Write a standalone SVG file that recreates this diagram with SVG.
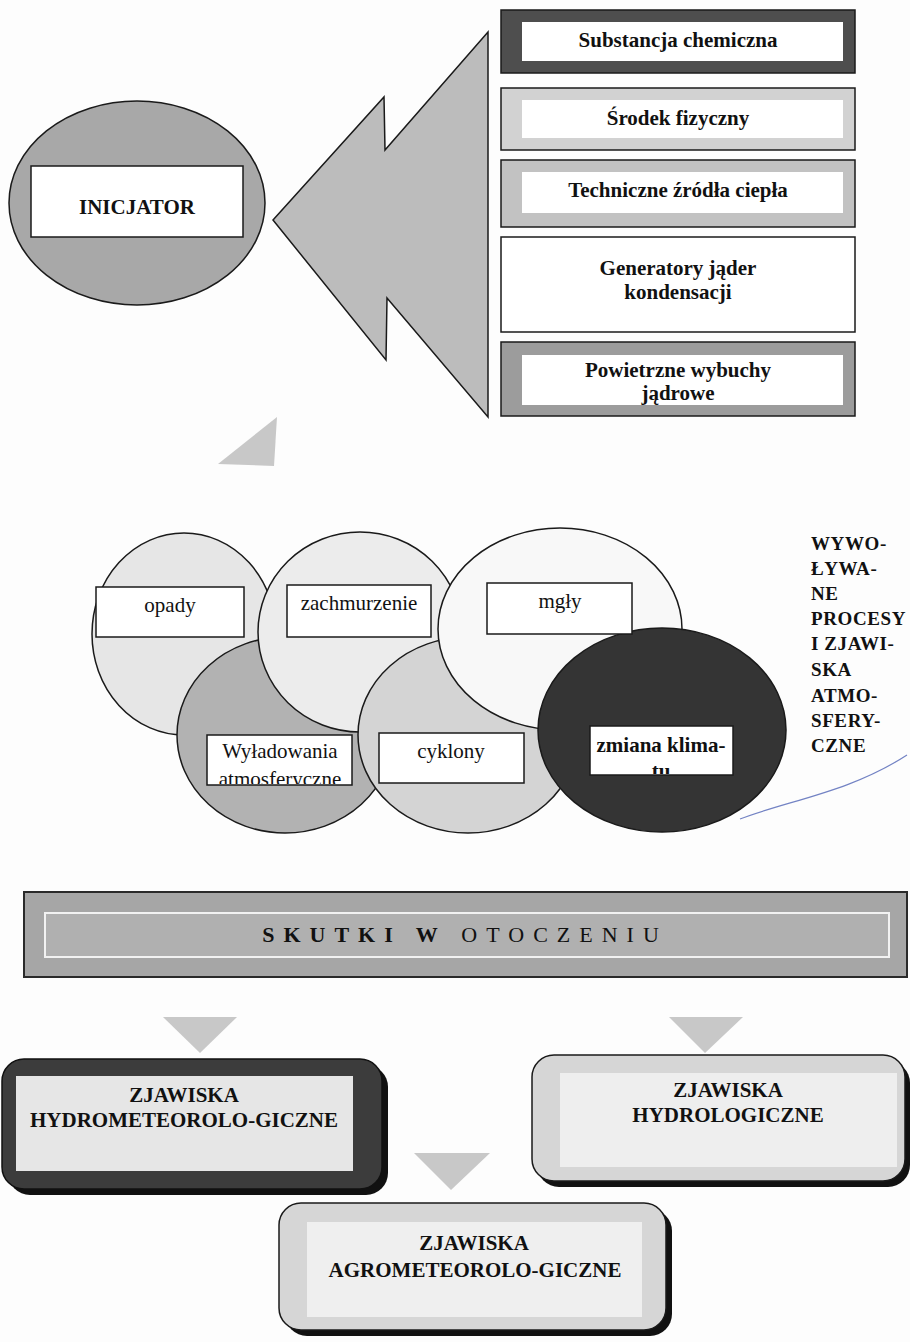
<svg xmlns="http://www.w3.org/2000/svg" width="910" height="1342" viewBox="0 0 910 1342">
<style>
.t{font-family:"Liberation Serif","Times New Roman",serif;fill:#111;}
.b{font-weight:bold;font-size:21px;}
.r{font-weight:normal;font-size:21px;}
.c{text-anchor:middle;}
.ln{stroke:#1a1a1a;stroke-width:1.5;}
.wb{fill:#fff;stroke:#1a1a1a;stroke-width:1.5;}
.tri{fill:#c8c8c8;stroke:none;}
</style>
<defs>
<clipPath id="cw"><rect x="208" y="736" width="143" height="48"/></clipPath>
<clipPath id="cz"><rect x="591" y="727" width="141" height="47"/></clipPath>
</defs>
<rect x="0" y="0" width="910" height="1342" fill="#fdfdfd"/>

<g id="connectors">
<polygon class="ln" fill="#bcbcbc" points="273,220 384,97 385,150 488,32 488,417 387,298 386,360"/>
<polygon class="tri" fill="#d0d0d0" points="277,417 218,464 274,466"/>
<polygon class="tri" points="163,1017 237,1017 200,1053"/>
<polygon class="tri" points="669,1017 743,1017 705,1053"/>
<polygon class="tri" points="414,1153 490,1153 451,1190"/>
</g>

<g id="inicjator">
<ellipse class="ln" cx="137" cy="203" rx="128" ry="102" fill="#a8a8a8"/>
<rect class="wb" x="31" y="166" width="212" height="71"/>
<text class="t b c" x="137" y="214">INICJATOR</text>
</g>

<g id="substancja">
<rect class="ln" x="501" y="10" width="354" height="63" fill="#4e4e4e"/>
<rect x="522" y="22" width="321" height="39" fill="#fff"/>
<text class="t b c" x="678" y="47">Substancja chemiczna</text>
</g>
<g id="srodek">
<rect class="ln" x="501" y="88" width="354" height="62" fill="#d2d2d2"/>
<rect x="522" y="100" width="321" height="38" fill="#fff"/>
<text class="t b c" x="678" y="125">Środek fizyczny</text>
</g>
<g id="techniczne">
<rect class="ln" x="501" y="160" width="354" height="67" fill="#c2c2c2"/>
<rect x="522" y="172" width="321" height="41" fill="#fff"/>
<text class="t b c" x="678" y="197">Techniczne źródła ciepła</text>
</g>
<g id="generatory">
<rect class="wb" x="501" y="237" width="354" height="95"/>
<text class="t b c" x="678" y="275">Generatory jąder</text>
<text class="t b c" x="678" y="299">kondensacji</text>
</g>
<g id="powietrzne">
<rect class="ln" x="501" y="342" width="354" height="74" fill="#9c9c9c"/>
<rect x="522" y="355" width="321" height="50" fill="#fff"/>
<text class="t b c" x="678" y="377">Powietrzne wybuchy</text>
<text class="t b c" x="678" y="400">jądrowe</text>
</g>

<g id="opady">
<ellipse class="ln" cx="184" cy="634" rx="92" ry="101" fill="#e6e6e6"/>
</g>
<g id="wyladowania">
<ellipse class="ln" cx="285" cy="735" rx="108" ry="98" fill="#b2b2b2"/>
</g>
<g id="zachmurzenie">
<ellipse class="ln" cx="360" cy="632" rx="102" ry="100" fill="#ececec"/>
</g>
<g id="cyklony">
<ellipse class="ln" cx="468" cy="735" rx="110" ry="98" fill="#d4d4d4"/>
</g>
<g id="mgly">
<ellipse class="ln" cx="560" cy="629" rx="122" ry="101" fill="#f8f8f8"/>
</g>
<g id="zmiana">
<ellipse class="ln" cx="662" cy="730" rx="124" ry="102" fill="#343434"/>
</g>

<g id="opady-label">
<rect class="wb" x="96" y="587" width="148" height="50"/>
<text class="t r c" x="170" y="612">opady</text>
</g>
<g id="zachmurzenie-label">
<rect class="wb" x="287" y="585" width="144" height="52"/>
<text class="t r c" x="359" y="610">zachmurzenie</text>
</g>
<g id="mgly-label">
<rect class="wb" x="487" y="583" width="145" height="51"/>
<text class="t r c" x="560" y="608">mgły</text>
</g>
<g id="wyladowania-label">
<rect class="wb" x="207" y="735" width="145" height="50"/>
<g clip-path="url(#cw)">
<text class="t r c" x="280" y="758">Wyładowania</text>
<text class="t r c" x="280" y="786">atmosferyczne</text>
</g>
</g>
<g id="cyklony-label">
<rect class="wb" x="379" y="733" width="145" height="50"/>
<text class="t r c" x="451" y="758">cyklony</text>
</g>
<g id="zmiana-label">
<rect class="wb" x="590" y="726" width="143" height="49"/>
<g clip-path="url(#cz)">
<text class="t b c" x="661" y="752">zmiana klima-</text>
<text class="t b c" x="661" y="778">tu</text>
</g>
</g>

<g id="wywolywane">
<g class="t" font-weight="bold" font-size="19" letter-spacing="0.6">
<text x="811" y="550">WYWO-</text>
<text x="811" y="575">ŁYWA-</text>
<text x="811" y="600">NE</text>
<text x="811" y="625">PROCESY</text>
<text x="811" y="650">I ZJAWI-</text>
<text x="811" y="676">SKA</text>
<text x="811" y="702">ATMO-</text>
<text x="811" y="727">SFERY-</text>
<text x="811" y="752">CZNE</text>
</g>
<path d="M740,819 C790,800 850,792 907,755" fill="none" stroke="#7383c4" stroke-width="1.2"/>
</g>

<g id="skutki">
<rect x="24" y="892" width="883" height="85" fill="#a6a6a6" stroke="#2a2a2a" stroke-width="2"/>
<rect x="45" y="913" width="844" height="44" fill="#b0b0b0" stroke="#f2f2f2" stroke-width="2"/>
<text class="t c" x="465" y="942" font-size="22" letter-spacing="9"><tspan font-weight="bold">SKUTKI W</tspan> OTOCZENIU</text>
</g>

<g id="hydrometeo">
<rect x="8" y="1065" width="380" height="130" rx="22" fill="#111"/>
<rect x="2" y="1059" width="380" height="130" rx="22" fill="#3c3c3c" stroke="#111" stroke-width="1.5"/>
<rect x="16" y="1076" width="337" height="95" fill="#e6e6e6"/>
<text class="t b c" x="184" y="1102">ZJAWISKA</text>
<text class="t b c" x="184" y="1127">HYDROMETEOROLO-GICZNE</text>
</g>

<g id="hydrologiczne">
<rect x="537" y="1061" width="373" height="126" rx="22" fill="#111"/>
<rect x="532" y="1055" width="373" height="126" rx="22" fill="#d6d6d6" stroke="#1a1a1a" stroke-width="1.5"/>
<rect x="560" y="1073" width="337" height="94" fill="#eeeeee"/>
<text class="t b c" x="728" y="1097">ZJAWISKA</text>
<text class="t b c" x="728" y="1122">HYDROLOGICZNE</text>
</g>

<g id="agrometeo">
<rect x="285" y="1209" width="387" height="127" rx="22" fill="#111"/>
<rect x="279" y="1203" width="387" height="127" rx="22" fill="#d6d6d6" stroke="#1a1a1a" stroke-width="1.5"/>
<rect x="307" y="1222" width="335" height="95" fill="#efefef"/>
<text class="t b c" x="474" y="1250">ZJAWISKA</text>
<text class="t b c" x="475" y="1277">AGROMETEOROLO-GICZNE</text>
</g>
</svg>
